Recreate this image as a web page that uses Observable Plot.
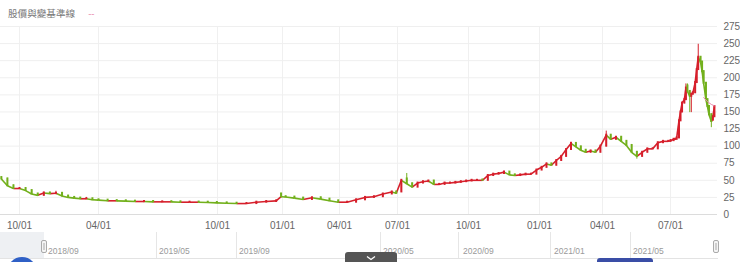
<!DOCTYPE html>
<html><head><meta charset="utf-8">
<script src="https://cdn.jsdelivr.net/npm/d3@7"></script>
<script src="https://cdn.jsdelivr.net/npm/@observablehq/plot@0.6"></script>
<style>
body{margin:0;background:#fff;width:740px;height:262px;overflow:hidden;position:relative;font-family:"Liberation Sans",Arial,sans-serif;}
#chart{position:absolute;left:0;top:0;}
#hdr{position:absolute;left:8px;top:5px;font-family:"Noto Sans CJK TC","Noto Sans CJK SC",sans-serif;font-size:9.6px;color:#777;line-height:16px;white-space:nowrap;}
#hdr .dash{color:#e88aad;margin-left:13px;font-family:"Liberation Sans",Arial,sans-serif;}
#nav{position:absolute;left:0;top:0;}
</style></head><body>
<div id="chart"></div>
<div id="hdr">股價與變基準線<span class="dash">--</span></div>
<script>
// ---- data ----
const dates = [
"2018-08-20","2018-09-03","2018-09-17","2018-10-01","2018-10-15","2018-10-29","2018-11-12","2018-11-26","2018-12-10","2018-12-24",
"2019-01-07","2019-01-21","2019-02-04","2019-02-18","2019-03-04","2019-03-18","2019-04-01","2019-04-15","2019-04-29","2019-05-13",
"2019-05-27","2019-06-10","2019-06-24","2019-07-08","2019-07-22","2019-08-05","2019-08-19","2019-09-02","2019-09-16","2019-09-30",
"2019-10-14","2019-10-28","2019-11-11","2019-11-25","2019-12-09","2019-12-23","2019-12-30","2020-01-06","2020-01-20","2020-02-03",
"2020-02-17","2020-03-02","2020-03-16","2020-03-30","2020-04-13","2020-04-27","2020-05-11","2020-05-25","2020-06-08","2020-06-22",
"2020-06-29","2020-07-06","2020-07-13","2020-07-20","2020-07-27","2020-08-03","2020-08-10","2020-08-17","2020-08-24","2020-08-31",
"2020-09-07","2020-09-14","2020-09-21","2020-09-28","2020-10-05","2020-10-12","2020-10-19","2020-10-26","2020-11-02","2020-11-09",
"2020-11-16","2020-11-23","2020-11-30","2020-12-07","2020-12-14","2020-12-21","2020-12-28","2021-01-04","2021-01-11","2021-01-18",
"2021-01-25","2021-02-01","2021-02-08","2021-02-15","2021-02-22","2021-03-01","2021-03-08","2021-03-15","2021-03-22","2021-03-29",
"2021-04-06","2021-04-12","2021-04-19","2021-04-26","2021-05-03","2021-05-10","2021-05-17","2021-05-24","2021-05-31","2021-06-07",
"2021-06-14","2021-06-21","2021-06-28",
"2021-07-01","2021-07-05","2021-07-07","2021-07-09","2021-07-12","2021-07-14","2021-07-16","2021-07-19","2021-07-21","2021-07-23",
"2021-07-26","2021-07-28","2021-07-30","2021-08-02","2021-08-04","2021-08-06","2021-08-09","2021-08-11","2021-08-13","2021-08-16",
"2021-08-18","2021-08-20","2021-08-23","2021-08-25","2021-08-27"];
const open = [
54,52,42,38,38,35,30,28,31.5,30.5, 31,27,25,24,23,23,21.5,21,20.3,20, 19.5,18.8,19,18.5,18.7,18.5,18,18.2,18,17.5,
17,16.5,16,16,18,19,30,26,25.5,24, 22,24.5,22.5,20,18,18,21.5,25,26,30,
33,33,52,45,40,46,48,49,44,44, 46,46,47,48,49,50,50.5,50,57,59, 60,62,58,57,58,59,59,65,69,74,
72,79,85,95,104,99,94,91,93,91, 100,116,110,113,107,101,91,85,91,96, 96,105,107,
107,108,110,110,112,137,150,163,168,188, 180,173,176,178,193,212,230,223,209,192, 168,158,146,138,143];
const close = [
52,42,38,38,35,30,28,31.5,30.5,31, 27,25,24,23,23,21.5,21,20,20,19.5, 19,19,18.5,18.5,18.5,18,18,18,17.5,17,
16.5,16,16,18,19,20,26,25.5,24,22, 24.5,22.5,20,18,18,21.5,25,26,30,33,
31,50,45,40,46,48,49,44,44,46, 46,47,48,49,50,50,50,57,59,60, 62,58,57,58,59,59,65,69,74,72,
79,85,95,104,99,94,91,93,91,100, 116,110,113,107,101,91,85,91,96,96, 105,107,107,
108,110,110,112,137,150,163,168,185,180, 173,176,178,193,212,230,223,209,192,168, 158,146,136,143,158];
const high = [
55,53,43,39,38.5,35.5,30.5,32.5,32,34, 31.5,27.5,25.5,24.5,25,23.5,22,21.5,20.8,20.5, 20,19.5,19.5,19,19,19,18.5,18.5,18.5,18,
17.5,17,16.5,18.5,19.5,20.5,31,26.5,26,24.5, 25,25,23,20.5,18.5,22,25.5,26.5,30.5,33.5,
33.5,51,60,45.5,46.5,48.5,49.5,49.5,45,46.5, 46.5,47.5,48.5,49.5,50.5,50.5,51,57.5,59.5,60.5, 63,62.5,58.5,58.5,59.5,59.5,65.5,69.5,75,74.5,
79.5,85.5,95.5,106,104.5,99.5,94.5,93.5,93.5,100.5, 122,116.5,114,113.5,107.5,101.5,91.5,91.5,96.5,97, 105.5,108,108,
109,110.5,111,113,138,151,164,170,191,191, 181,177,179,194,213,249,231,224,210,193, 169,159,147,144,159];
const low = [
51,41.5,37.5,37,34.5,29.5,27.5,27.5,30,30, 26.5,24.5,23.5,22.5,22.5,21,20.5,19.5,19.5,19, 18.5,18.5,18,18,18,17.5,17.5,17.5,17,16.5,
16,15.5,15.5,15.5,17.5,18.5,25,25,23.5,21.5, 21.5,22,19.5,17.5,17.5,17.5,21,24.5,25.5,29.5,
30,32.5,44,39.5,39.5,45.5,47.5,43.5,43.5,43.5, 45.5,45.5,46.5,47.5,48.5,49,49,49.5,56.5,58.5, 59,57.5,56.5,56.5,57.5,58.5,58.5,64.5,68.5,71.5,
71.5,78.5,84.5,94.5,98.5,93.5,90.5,90.5,90.5,90.5, 99,109,109.5,106.5,100.5,90.5,81,84.5,90.5,95, 95.5,104.5,106,
106.5,107.5,109,109.5,111.5,136,149,162,167,179, 149,149,175,177,192,211,222,208,191,167, 157,145,127,137,142];
const baseDates = ["2021-08-13","2021-08-18","2021-08-23","2021-08-27"];
const baseValues = [171,165,161,159];

const xTicks = ["2018-10-01","2019-04-01","2019-10-01","2020-01-01","2020-04-01","2020-07-01","2020-10-01","2021-01-01","2021-04-01","2021-07-01"];
const yTicks = [0,25,50,75,100,125,150,175,200,225,250,275];
const navLabels = ["2018/09","2019/05","2019/09","2020/05","2020/09","2021/01","2021/05"];

// x scale breakpoints (dates shown at the tick positions of the original axis)
const xDomain = ["2018-08-18","2018-10-01","2019-04-01","2019-10-01","2020-01-01","2020-04-01","2020-07-01","2020-10-01","2021-01-01","2021-04-01","2021-07-01","2021-08-31"];
const xRange  = [0,19,98,217,282,339,397,468,539,602,670,717];

const RED = "#d61f2b", GREEN = "#72b01c";
const data = dates.map((d,i)=>({date:new Date(d), open:open[i], close:close[i], high:high[i], low:low[i], c: close[i]>=open[i]?RED:GREEN}));
const links = data.slice(1).map((d,i)=>({x1:data[i].date, y1:data[i].close, x2:d.date, y2:d.close, c: d.close>=data[i].close?RED:GREEN}));
const base = baseDates.map((d,i)=>({date:new Date(d), v:baseValues[i]}));

const chart = Plot.plot({
  width: 740, height: 262,
  marginTop: 26, marginBottom: 48, marginLeft: 0, marginRight: 23,
  style: {fontFamily: '"Liberation Sans", Arial, sans-serif', fontSize: "10px", color: "#666", background: "transparent"},
  x: {type: "time", domain: xDomain.map(d=>new Date(d)), range: xRange, ticks: xTicks.map(d=>new Date(d)),
      tickFormat: d3.utcFormat("%m/%d"), tickSize: 0, tickPadding: 7, label: null},
  y: {domain: [0, 275], ticks: yTicks, axis: "right", tickSize: 0, tickPadding: 6, label: null},
  color: {type: "identity"},
  marks: [
    Plot.ruleX(xTicks.map(d=>new Date(d)), {stroke: "#f0f0f0"}),
    Plot.ruleY(yTicks, {stroke: "#efefef"}),
    Plot.ruleY([0], {stroke: "#dcdcdc"}),
    Plot.link(links, {x1:"x1", y1:"y1", x2:"x2", y2:"y2", stroke:"c", strokeWidth: 1.6}),
    Plot.ruleX(data, {x:"date", y1:"low", y2:"high", stroke:"c", strokeWidth: 1}),
    Plot.ruleX(data, {x:"date", y1:"open", y2:"close", stroke:"c", strokeWidth: 2, strokeLinecap: "square"}),
    Plot.line(base, {x:"date", y:"v", stroke:"#e88aad", strokeWidth: 1})
  ]
});
document.getElementById("chart").appendChild(chart);

// ---- navigator / UI decorations below the chart ----
const nav = d3.select("body").append("svg").attr("id","nav").attr("width",740).attr("height",262);
nav.append("rect").attr("x",0).attr("y",232).attr("width",44).attr("height",26).attr("fill","#eef0f3");
nav.append("line").attr("x1",0).attr("x2",718).attr("y1",258.5).attr("y2",258.5).attr("stroke","#e3e3e3");
const sepX = [156,236,380,458,550,630];
sepX.forEach(x=>nav.append("line").attr("x1",x+0.5).attr("x2",x+0.5).attr("y1",232).attr("y2",258).attr("stroke","#e6e6e6"));
const labX = [48,159,239,383,463,554,633];
navLabels.forEach((t,i)=>nav.append("text").attr("x",labX[i]).attr("y",254).attr("font-size",8.5).attr("fill","#9a9a9a")
  .attr("font-family",'"Liberation Sans", Arial, sans-serif').text(t));
[41.5, 713.5].forEach(x=>{
  nav.append("rect").attr("x",x).attr("y",240.5).attr("width",5).attr("height",12).attr("rx",1.5).attr("fill","#f4f4f4").attr("stroke","#aaa");
  nav.append("line").attr("x1",x+2.5).attr("x2",x+2.5).attr("y1",243).attr("y2",250).attr("stroke","#aaa");
});
nav.append("path").attr("d","M345,262 V255 Q345,252 348,252 H394 Q397,252 397,255 V262 Z").attr("fill","#555");
nav.append("path").attr("d","M367,256.5 L371,259.5 L375,256.5").attr("stroke","#fff").attr("stroke-width",1.3).attr("fill","none");
nav.append("path").attr("d","M597,262 V261 Q597,258 600,258 H650 Q653,258 653,261 V262 Z").attr("fill","#3a4ea6");
nav.append("circle").attr("cx",22).attr("cy",272).attr("r",15).attr("fill","#2f60c6");
</script>
</body></html>
